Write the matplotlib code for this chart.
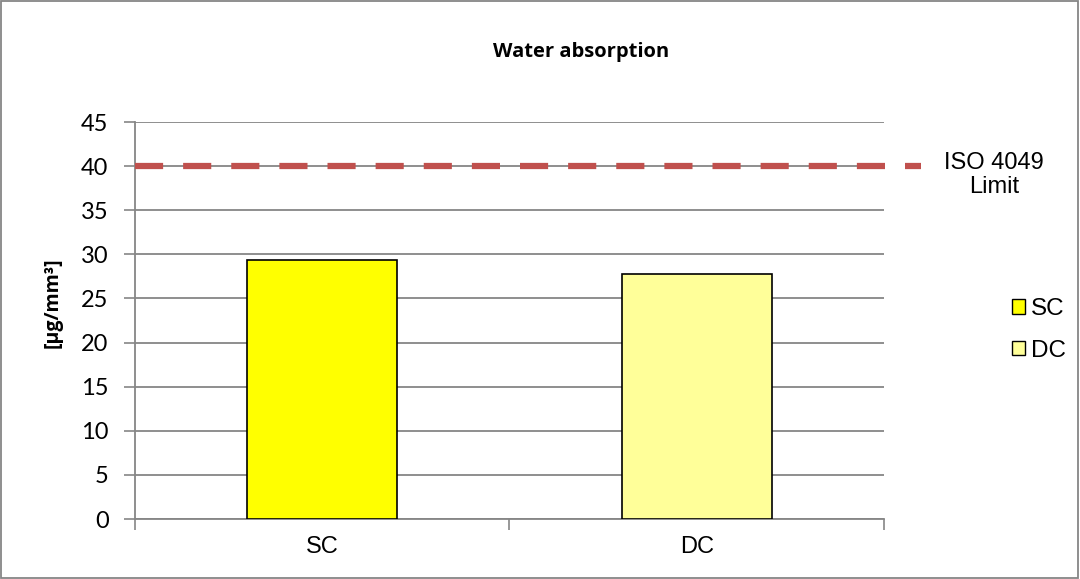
import matplotlib
matplotlib.use('Agg')
import matplotlib.pyplot as plt
from matplotlib.patches import Rectangle, Patch

categories = ['SC', 'DC']
absorption = [29.4, 27.8]
bar_colors = ['#FFFF00', '#FFFF99']
iso_limit = 40
y_ticks = [0, 5, 10, 15, 20, 25, 30, 35, 40, 45]

fig = plt.figure(figsize=(10.8, 5.79), dpi=100)
ax = fig.add_axes([0.125, 0.1036, 0.6935, 0.6856])

x = range(len(categories))
ax.bar(x, absorption, width=0.4, color=bar_colors, edgecolor='black', linewidth=1.2, zorder=3)

# ISO limit line, runs a bit past the plot area like in the original
ax.plot([-0.5, 1.6], [iso_limit, iso_limit], color='#C0504D', linewidth=4.5,
        dashes=(4.5, 3.2), clip_on=False, zorder=4)
ax.text(1.793, iso_limit - 1.0, 'ISO 4049\nLimit', ha='center', va='center',
        fontsize=17, family='Liberation Sans', linespacing=1.1)

ax.set_xlim(-0.5, 1.5)
ax.set_ylim(0, 45)
ax.set_yticks(y_ticks)
ax.set_yticklabels([str(t) for t in y_ticks], fontsize=17, family='Lato')
ax.yaxis.grid(True, color='#868686', linewidth=1.3, zorder=0)
ax.set_axisbelow(True)

ax.set_xticks([-0.5, 0.5, 1.5])
ax.set_xticklabels([])
ax.set_xticks(list(x), minor=True)
ax.set_xticklabels(categories, minor=True, fontsize=17, family='Liberation Sans')
ax.tick_params(axis='x', which='minor', length=0, pad=12)
ax.tick_params(axis='x', which='major', length=8, color='#868686', width=1.2)
ax.tick_params(axis='y', length=8, color='#868686', width=1.2, pad=11)

for side in ['top', 'right']:
    ax.spines[side].set_visible(False)
for side in ['left', 'bottom']:
    ax.spines[side].set_color('#868686')
    ax.spines[side].set_linewidth(1.3)

ax.set_ylabel('[µg/mm³]', fontsize=14, fontweight='bold', family='Open Sans')
ax.yaxis.set_label_coords(-0.096, 0.545)

fig.text(0.538, 0.91, 'Water absorption', ha='center', va='center',
         fontsize=14.5, fontweight='bold', family='Open Sans')

handles = [Patch(facecolor=c, edgecolor='black', linewidth=1.0) for c in bar_colors]
fig.legend(handles, categories, loc='center left', bbox_to_anchor=(0.937, 0.430),
           frameon=False, borderpad=0, borderaxespad=0,
           handlelength=0.55, handleheight=0.55, handletextpad=0.22,
           labelspacing=0.8, prop={'family': 'Liberation Sans', 'size': 17.5})

fig.patches.append(Rectangle((0.001, 0.002), 0.997, 0.996, transform=fig.transFigure,
                             fill=False, edgecolor='#868686', linewidth=1.3))

fig.savefig('out.png', dpi=100)
